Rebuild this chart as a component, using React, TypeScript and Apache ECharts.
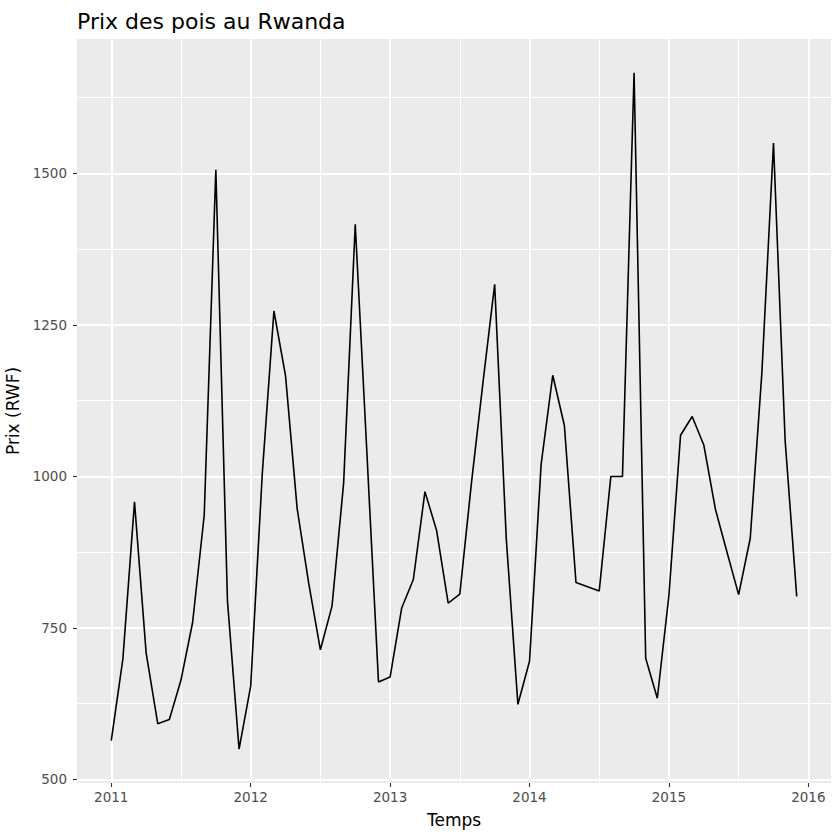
import React, { useEffect, useRef } from 'react';
import * as echarts from 'echarts';

// Prix mensuels (RWF), janvier -> décembre
const years = [2011, 2012, 2013, 2014, 2015];
const prices2011 = [564, 699, 958, 709, 592, 599, 664, 759, 936, 1506, 795, 550];
const prices2012 = [654, 1005, 1273, 1166, 947, 823, 714, 786, 989, 1416, 1040, 661];
const prices2013 = [669, 783, 830, 975, 911, 791, 806, 989, 1156, 1317, 897, 624];
const prices2014 = [695, 1020, 1167, 1084, 825, 818, 811, 1000, 1000, 1666, 700, 634];
const prices2015 = [804, 1068, 1099, 1052, 946, 875, 805, 898, 1171, 1550, 1060, 802];
const pricesByYear = [prices2011, prices2012, prices2013, prices2014, prices2015];

const xTicks = [2011, 2012, 2013, 2014, 2015, 2016];
const xMinorTicks = [2011.5, 2012.5, 2013.5, 2014.5, 2015.5];
const yTicks = [500, 750, 1000, 1250, 1500];
const yMinorTicks = [625, 875, 1125, 1375, 1625];

const FONT = 'DejaVu Sans';

const App: React.FC = () => {
  const chartRef = useRef<HTMLDivElement>(null);

  useEffect(() => {
    if (!chartRef.current) return;
    const chart = echarts.init(chartRef.current, undefined, { renderer: 'svg' });

    const points: [number, number][] = [];
    years.forEach((y, yi) => {
      pricesByYear[yi].forEach((v, m) => points.push([y + m / 12, v]));
    });

    // expansion façon ggplot (5 % de chaque côté)
    const xs = points.map(p => p[0]);
    const vs = points.map(p => p[1]);
    const xLo = Math.min(...xs), xHi = Math.max(...xs);
    const yLo = Math.min(...vs), yHi = Math.max(...vs);
    const xMin = xLo - (xHi - xLo) * 0.05, xMax = xHi + (xHi - xLo) * 0.05;
    const yMin = yLo - (yHi - yLo) * 0.05, yMax = yHi + (yHi - yLo) * 0.05;

    const tickLabel = { color: '#4D4D4D', fontSize: 13.5, fontFamily: FONT };
    const nameStyle = { color: '#000', fontSize: 17, fontFamily: FONT };

    chart.setOption({
      animation: false,
      title: {
        text: 'Prix des pois au Rwanda',
        left: 72,
        top: 5,
        textStyle: { color: '#000', fontSize: 22, fontWeight: 'normal', fontFamily: FONT },
      },
      grid: {
        left: 77,
        right: 9,
        top: 39,
        bottom: 57,
        show: true,
        backgroundColor: '#EBEBEB',
        borderWidth: 0,
        containLabel: false,
        outerBoundsMode: 'none',
      },
      xAxis: [
        {
          type: 'value',
          min: xMin,
          max: xMax,
          axisLine: { show: false },
          axisTick: { show: true, length: 4, lineStyle: { color: '#333333', width: 1.1 }, customValues: xTicks },
          axisLabel: { ...tickLabel, margin: 7, customValues: xTicks, formatter: (v: number) => String(Math.round(v)) },
          splitLine: { show: true, lineStyle: { color: '#FFFFFF', width: 2 } },
          name: 'Temps',
          nameLocation: 'middle',
          nameGap: 28,
          nameTextStyle: nameStyle,
        },
        {
          type: 'value',
          position: 'top',
          min: xMin,
          max: xMax,
          axisLine: { show: false },
          axisTick: { show: false, customValues: xMinorTicks },
          axisLabel: { show: false, customValues: xMinorTicks },
          splitLine: { show: true, lineStyle: { color: '#FFFFFF', width: 1 } },
        },
      ],
      yAxis: [
        {
          type: 'value',
          min: yMin,
          max: yMax,
          axisLine: { show: false },
          axisTick: { show: true, length: 4, lineStyle: { color: '#333333', width: 1.1 }, customValues: yTicks },
          axisLabel: { ...tickLabel, margin: 10, customValues: yTicks, formatter: (v: number) => String(v) },
          splitLine: { show: true, lineStyle: { color: '#FFFFFF', width: 2 } },
          name: 'Prix (RWF)',
          nameLocation: 'middle',
          nameGap: 41,
          nameTextStyle: nameStyle,
        },
        {
          type: 'value',
          position: 'right',
          min: yMin,
          max: yMax,
          axisLine: { show: false },
          axisTick: { show: false, customValues: yMinorTicks },
          axisLabel: { show: false, customValues: yMinorTicks },
          splitLine: { show: true, lineStyle: { color: '#FFFFFF', width: 1 } },
        },
      ],
      series: [
        {
          type: 'line',
          xAxisIndex: 0,
          yAxisIndex: 0,
          data: points,
          showSymbol: false,
          symbol: 'none',
          lineStyle: { color: '#000000', width: 1.6 },
          z: 10,
        },
      ],
    });

    return () => chart.dispose();
  }, []);

  return (
    <div
      ref={chartRef}
      style={{ position: 'absolute', left: 0, top: 0, width: 840, height: 840, background: '#fff' }}
    />
  );
};

export default App;
